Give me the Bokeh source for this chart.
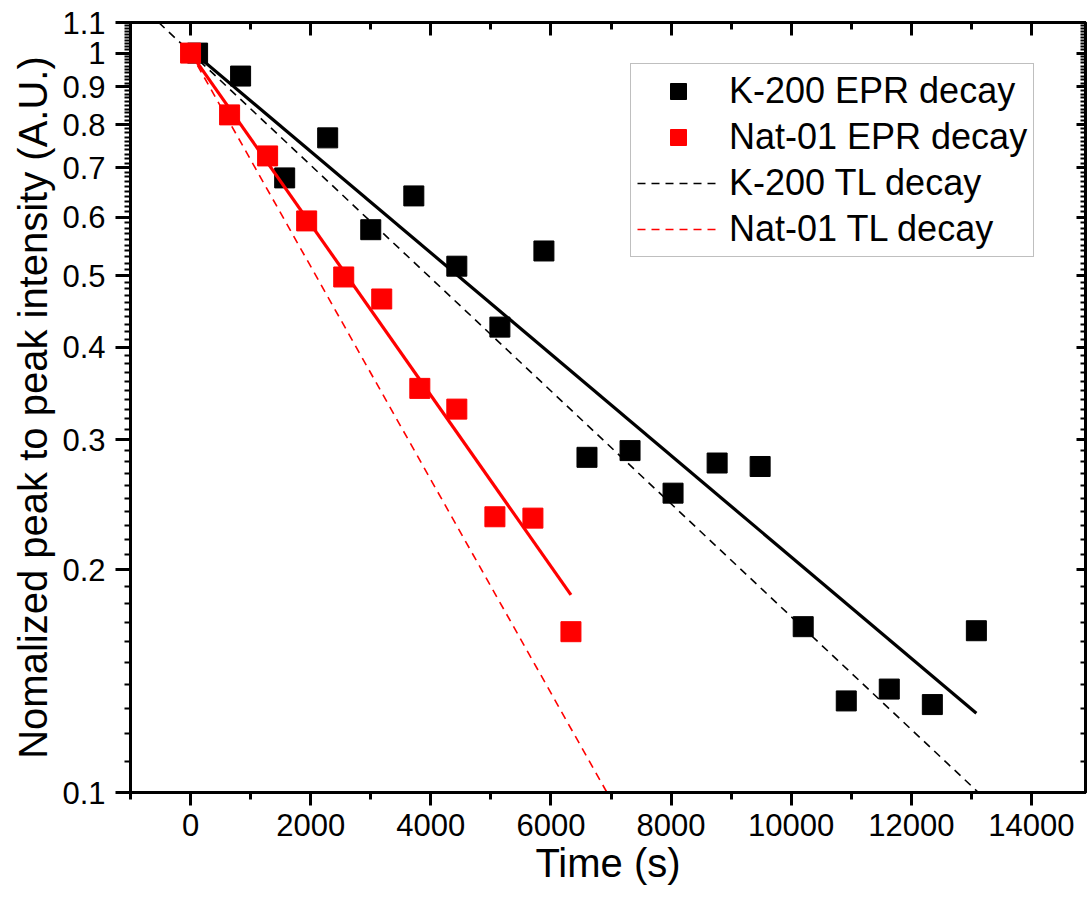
from bokeh.plotting import figure
from bokeh.models import (Range1d, FixedTicker, LinearAxis, LogAxis,
                          CustomJSTickFormatter, Legend, LegendItem)
from bokeh.embed import file_html
from bokeh.resources import INLINE

# ---- data ----
k200_t = [117, 833, 1567, 2283, 3000, 3717, 4433, 5150, 5883, 6600,
          7317, 8033, 8767, 9483, 10200, 10917, 11633, 12350, 13083]
k200_epr = [1.0, 0.931, 0.678, 0.768, 0.577, 0.641, 0.515, 0.426, 0.540, 0.284,
            0.290, 0.254, 0.279, 0.276, 0.1676, 0.133, 0.138, 0.1315, 0.1655]
nat_t = [0, 650, 1283, 1933, 2550, 3183, 3817, 4433, 5067, 5700, 6333]
nat_epr = [1.0, 0.825, 0.726, 0.593, 0.498, 0.465, 0.352, 0.330, 0.236, 0.235, 0.165]

# exponential fits (straight lines on log axis) – end points
k200_fit_t = [60, 13083]
k200_fit_y = [1.0, 0.128]
nat_fit_t = [0, 6333]
nat_fit_y = [1.0, 0.185]

# TL decay curves – end points
k200_tl_t = [-530, 13117]
k200_tl_y = [1.1, 0.1]
nat_tl_t = [0, 6933]
nat_tl_y = [1.0, 0.1]

x_major = [0, 2000, 4000, 6000, 8000, 10000, 12000, 14000]
x_minor = [-1000, 1000, 3000, 5000, 7000, 9000, 11000, 13000]
y_major = [0.1, 0.2, 0.3, 0.4, 0.5, 0.6, 0.7, 0.8, 0.9, 1.0, 1.1]
y_minor = [round(0.01 * i, 2) for i in range(10, 111) if i % 10 != 0]

FONT = "Liberation Sans"

p = figure(width=1089, height=912, y_axis_type="log",
           x_range=Range1d(-1000, 14900), y_range=Range1d(0.1, 1.1),
           output_backend="svg", toolbar_location=None,
           min_border_left=130, min_border_right=4,
           min_border_top=22, min_border_bottom=120)
p.grid.visible = False
p.outline_line_color = "black"
p.outline_line_width = 3
p.background_fill_color = "white"
p.border_fill_color = "white"

# bottom axis
xa = p.xaxis[0]
xa.ticker = FixedTicker(ticks=x_major, minor_ticks=x_minor)
xa.axis_label = "Time (s)"
xa.axis_label_text_font = FONT
xa.axis_label_text_font_size = "40px"
xa.axis_label_text_font_style = "normal"
xa.axis_label_text_color = "black"
xa.axis_label_standoff = 2
xa.major_label_text_font = FONT
xa.major_label_text_font_size = "31px"
xa.major_label_text_color = "black"
xa.major_label_standoff = 8
xa.axis_line_width = 3
xa.major_tick_line_width = 3
xa.minor_tick_line_width = 3
xa.major_tick_out = 13
xa.major_tick_in = 0
xa.minor_tick_out = 7
xa.minor_tick_in = 0

# left axis
ya = p.yaxis[0]
ya.ticker = FixedTicker(ticks=y_major, minor_ticks=y_minor)
ya.formatter = CustomJSTickFormatter(
    code="return Math.abs(tick - 1) < 1e-9 ? '1' : tick.toFixed(1);")
ya.axis_label = "Nomalized peak to peak intensity (A.U.)"
ya.axis_label_text_font = FONT
ya.axis_label_text_font_size = "40px"
ya.axis_label_text_font_style = "normal"
ya.axis_label_text_color = "black"
ya.axis_label_standoff = 4
ya.major_label_text_font = FONT
ya.major_label_text_font_size = "31px"
ya.major_label_text_color = "black"
ya.major_label_standoff = 10
ya.axis_line_width = 3
ya.major_tick_line_width = 3
ya.minor_tick_line_width = 2
ya.major_tick_out = 15
ya.major_tick_in = 0
ya.minor_tick_out = 6
ya.minor_tick_in = 0

empty = CustomJSTickFormatter(code="return '';")

top = LinearAxis(ticker=FixedTicker(ticks=x_major, minor_ticks=x_minor),
                 formatter=empty, major_label_text_font_size="0px",
                 major_label_standoff=0, axis_line_width=3,
                 major_tick_line_width=3, minor_tick_line_width=3,
                 major_tick_in=13, major_tick_out=0,
                 minor_tick_in=7, minor_tick_out=0)
p.add_layout(top, "above")

right = LogAxis(ticker=FixedTicker(ticks=y_major, minor_ticks=y_minor),
                formatter=empty, major_label_text_font_size="0px",
                major_label_standoff=0, axis_line_width=3,
                major_tick_line_width=3, minor_tick_line_width=2,
                major_tick_in=9, major_tick_out=0,
                minor_tick_in=5, minor_tick_out=0)
p.add_layout(right, "right")

# TL decay (dashed)
r_ktl = p.line(k200_tl_t, k200_tl_y, line_color="black", line_width=1.6,
               line_dash="8 6")
r_ntl = p.line(nat_tl_t, nat_tl_y, line_color="#FF0000", line_width=1.6,
               line_dash="8 6")

# EPR fits (solid)
p.line(k200_fit_t, k200_fit_y, line_color="black", line_width=3.2)
r_k = p.scatter(k200_t, k200_epr, marker="square", size=20,
                fill_color="black", line_color="black")
p.line(nat_fit_t, nat_fit_y, line_color="#FF0000", line_width=3.2)
r_n = p.scatter(nat_t, nat_epr, marker="square", size=20,
                fill_color="#FF0000", line_color="#FF0000")

legend = Legend(items=[
    LegendItem(label="K-200 EPR decay", renderers=[r_k]),
    LegendItem(label="Nat-01 EPR decay", renderers=[r_n]),
    LegendItem(label="K-200 TL decay", renderers=[r_ktl]),
    LegendItem(label="Nat-01 TL decay", renderers=[r_ntl]),
], location=(500, 535))
legend.label_text_font = FONT
legend.label_text_font_size = "36px"
legend.label_text_color = "black"
legend.label_standoff = 10
legend.glyph_width = 82
legend.glyph_height = 40
legend.label_height = 40
legend.spacing = 4
legend.padding = 6
legend.margin = 0
legend.border_line_color = "#808080"
legend.border_line_width = 1.5
legend.background_fill_color = "white"
legend.background_fill_alpha = 1.0
p.add_layout(legend, "center")

open("out.html", "w").write(file_html(p, INLINE))
